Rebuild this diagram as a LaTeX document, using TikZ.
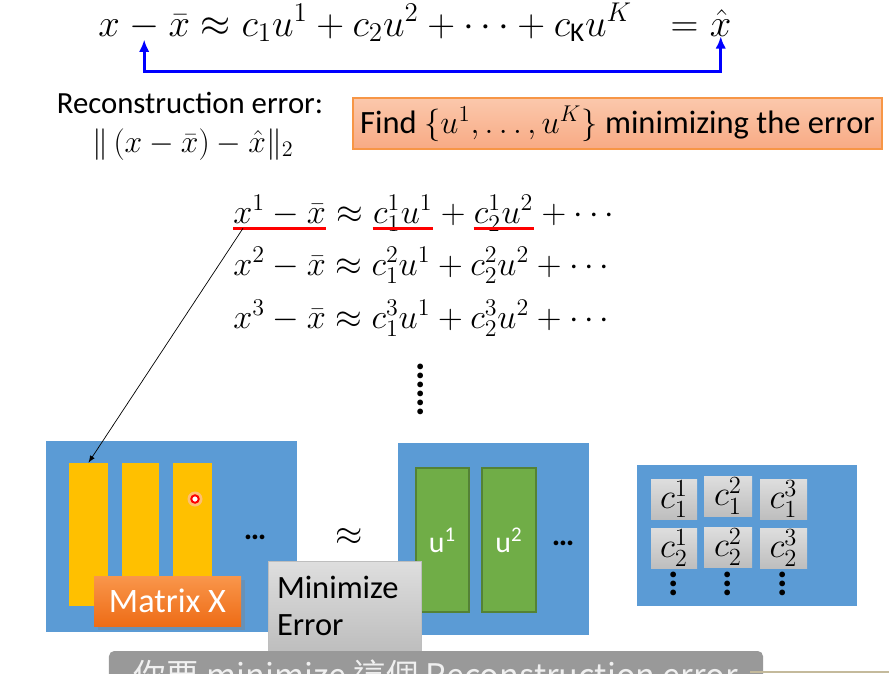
\documentclass[tikz,border=0pt]{standalone}
\usepackage{fix-cm}
\usepackage{fontspec}
\setmainfont{Carlito}
\newfontfamily\cjkfont{Noto Sans CJK TC}
\usetikzlibrary{positioning, arrows.meta, shadows}

\definecolor{panelblue}{RGB}{91,155,213}
\definecolor{baryellow}{RGB}{255,192,0}
\definecolor{bargreen}{RGB}{112,173,71}
\definecolor{bargreendk}{RGB}{84,130,53}
\definecolor{findline}{RGB}{247,150,70}
\definecolor{findtop}{RGB}{251,200,172}
\definecolor{findbot}{RGB}{248,170,132}
\definecolor{mxtop}{RGB}{249,150,75}
\definecolor{mxbot}{RGB}{238,108,22}
\definecolor{greytop}{RGB}{222,222,222}
\definecolor{greybot}{RGB}{190,190,190}
\definecolor{subgrey}{RGB}{153,153,153}
\definecolor{tanline}{RGB}{196,186,156}

\newcommand{\dotstack}{\vbox{\baselineskip=5.2pt\lineskiplimit=0pt\hbox{.}\hbox{.}\hbox{.}}}
\newcommand{\longdotstack}{\vbox{\baselineskip=5.1pt\lineskiplimit=0pt\hbox{.}\hbox{.}\hbox{.}\hbox{.}\hbox{.}\hbox{.}}}

\tikzset{
  topeq/.style={inner sep=0pt, anchor=base west, font=\fontsize{22}{26}\selectfont},
  eqpart/.style={inner sep=0pt, font=\fontsize{19.5}{24}\selectfont},
  panel/.style={fill=panelblue, inner sep=0pt},
  xbar/.style={fill=baryellow, inner sep=0pt, minimum height=28.6mm},
  ubar/.style={fill=bargreen, draw=bargreendk, line width=0.6pt, inner sep=0pt,
    minimum width=10.6mm, minimum height=28.8mm, text=white, font=\fontsize{17}{20}\selectfont},
  cbox/.style={top color=greytop, bottom color=greybot, inner sep=0pt,
    minimum height=8mm, font=\fontsize{20}{24}\selectfont},
  redline/.style={draw=red, line width=1.7pt},
  bluearrow/.style={draw=blue, line width=1.7pt,
    {Latex[length=7pt,width=6pt]}-{Latex[length=7pt,width=6pt]}},
  dotsym/.style={inner sep=0pt, font=\fontsize{22}{24}\selectfont\bfseries}
}

\begin{document}
\begin{tikzpicture}[x=0.2mm,y=-0.2mm]
\useasboundingbox (0,0) rectangle (889,673);
\clip (0,0) rectangle (889,673);
\fill[white] (0,0) rectangle (889,673);

% equation du haut
\node[topeq] (eqa) at (98,36) {$x$};
\node[topeq, base right=0pt of eqa] (eqm) {${}-{}$};
\node[topeq, base right=0pt of eqm] (eqb) {$\bar{x}\approx c_1u^1+c_2u^2+\cdots+c_{\mathrm{K}}u^K\;\;\,={}$};
\node[topeq, base right=0pt of eqb] (eqh) {$\hat{x}$};
\coordinate (bend) at (0,71);
\draw[bluearrow] (eqm.south) -- (eqm.south |- bend) -| (eqh.south);

% erreur
\node[inner sep=0pt, anchor=base, font=\fontsize{17.5}{21}\selectfont] (recon) at (190,113) {Reconstruction error:};
\node[inner sep=0pt, anchor=base, font=\fontsize{18}{21}\selectfont] (norm) at (193,152) {$\|\,(x-\bar{x})-\hat{x}\|_2$};

\node[top color=findtop, bottom color=findbot, draw=findline, line width=0.6pt,
  minimum width=105.8mm, minimum height=10.2mm, inner sep=0pt,
  font=\fontsize{18.5}{22}\selectfont] (find) at (617.5,123.5) {Find $\{u^1,\dots,u^K\}$ minimizing the error};

% les lignes
\node[eqpart, anchor=base west] (r1a) at (233,223) {$x^1-\bar{x}$};
\node[eqpart, base right=0pt of r1a] (r1b) {${}\approx{}$};
\node[eqpart, base right=0pt of r1b] (r1c) {$c_1^1$};
\node[eqpart, base right=0pt of r1c] (r1d) {$u^1$};
\node[eqpart, base right=0pt of r1d] (r1e) {${}+{}$};
\node[eqpart, base right=0pt of r1e] (r1f) {$c_2^1$};
\node[eqpart, base right=0pt of r1f] (r1g) {$u^2$};
\node[eqpart, base right=0pt of r1g] (r1h) {${}+\cdots$};
\node[eqpart, anchor=base west] (r2) at (233,275) {$x^2-\bar{x}\approx c_1^2u^1+c_2^2u^2+\cdots$};
\node[eqpart, anchor=base west] (r3) at (233,328) {$x^3-\bar{x}\approx c_1^3u^1+c_2^3u^2+\cdots$};
\node[dotsym] (rowdots) at (421,389) {\longdotstack};

\draw[redline] ([yshift=-3pt]r1a.base west) -- ([yshift=-3pt]r1a.base east);
\draw[redline] ([yshift=-3pt]r1c.base west) -- ([yshift=-3pt]r1c.base east);
\draw[redline] ([yshift=-3pt]r1d.base west) -- ([yshift=-3pt]r1d.base east);
\draw[redline] ([yshift=-3pt]r1f.base west) -- ([yshift=-3pt]r1f.base east);
\draw[redline] ([yshift=-3pt]r1g.base west) -- ([yshift=-3pt]r1g.base east);

% matrice X
\node[panel, minimum width=50.2mm, minimum height=38.2mm] (matX) at (171.5,536.5) {};
\node[xbar, minimum width=7.8mm] (bar1) at (88.5,534.5) {};
\node[xbar, minimum width=7.4mm] (bar2) at (140.5,534.5) {};
\node[xbar, minimum width=7.8mm] (bar3) at (192.5,534.5) {};
\node[circle, fill=red!25, opacity=0.6, minimum size=3mm, inner sep=0pt] (glow) at (195,499) {};
\node[circle, draw=red, fill=white, line width=1.1pt, minimum size=1.5mm, inner sep=0pt] (cursor) at (195,499) {};
\node[dotsym, font=\fontsize{18}{20}\selectfont\bfseries] (xdots) at (255,537) {…};
\draw[->, >=latex] ([xshift=5.7pt,yshift=-3pt]r1a.base west) -- (bar1.north);
\node[top color=mxtop, bottom color=mxbot, drop shadow={opacity=0.35},
  minimum width=29.4mm, minimum height=10mm, inner sep=0pt, text=white,
  font=\fontsize{19.5}{22}\selectfont] (mx) at (167.5,601) {Matrix X};

\node[inner sep=0pt, font=\fontsize{20}{24}\selectfont] (approx) at (349,537) {$\approx$};

% matrice U
\node[panel, minimum width=38.2mm, minimum height=38.4mm] (matU) at (493.5,539) {};
\node[ubar] (u1) at (442.5,540) {u\textsuperscript{1}};
\node[ubar, minimum width=10.8mm] (u2) at (509,540) {u\textsuperscript{2}};
\node[dotsym, font=\fontsize{18}{20}\selectfont\bfseries] (udots) at (563,543) {…};

\node[top color=greytop, bottom color=greybot, draw=greybot, line width=0.4pt,
  minimum width=30.6mm, minimum height=17.8mm, inner xsep=1.8mm, inner ysep=0pt,
  text width=27mm, align=left, font=\fontsize{18.5}{21.5}\selectfont] (minerr) at (344.5,606) {Minimize\\Error};

% coefficients
\node[panel, minimum width=44mm, minimum height=28.2mm] (matC) at (747,535.5) {};
\node[cbox, minimum width=9.2mm] (c11) at (674,499) {$c_1^1$};
\node[cbox, minimum width=9.6mm] (c12) at (728,496) {$c_1^2$};
\node[cbox, minimum width=9.4mm] (c13) at (783.5,499) {$c_1^3$};
\node[cbox, minimum width=9.2mm] (c21) at (674,548) {$c_2^1$};
\node[cbox, minimum width=9.6mm] (c22) at (728,547) {$c_2^2$};
\node[cbox, minimum width=9.4mm] (c23) at (783.5,548) {$c_2^3$};
\node[dotsym] (cd1) at (674,584) {\dotstack};
\node[dotsym] (cd2) at (728,584) {\dotstack};
\node[dotsym] (cd3) at (783,584) {\dotstack};

% sous-titre
\node[fill=subgrey, rounded corners=3pt, minimum width=130.8mm, minimum height=9.6mm,
  inner sep=0pt, text=white!94!black, font=\cjkfont\fontsize{18.5}{20}\selectfont] (sub) at (436,675) {你要 minimize 這個 Reconstruction error};
\coordinate (tanA) at (750,672);
\coordinate (tanB) at (889,672);
\draw[tanline, line width=0.6pt] (tanA) -- (tanB);
\end{tikzpicture}
\end{document}
